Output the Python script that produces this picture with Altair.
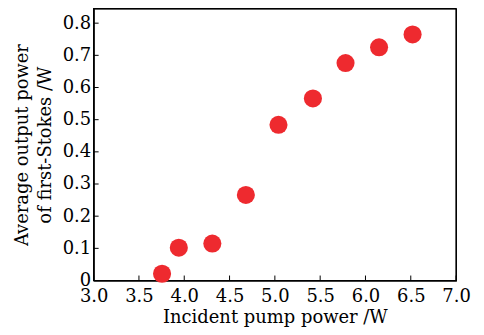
import altair as alt
import pandas as pd

pump = [3.755, 3.94, 4.31, 4.68, 5.04, 5.42, 5.78, 6.15, 6.52]
power = [0.021, 0.102, 0.115, 0.266, 0.484, 0.566, 0.676, 0.725, 0.765]
x_ticks = [3.0, 3.5, 4.0, 4.5, 5.0, 5.5, 6.0, 6.5, 7.0]
y_ticks = [0, 0.1, 0.2, 0.3, 0.4, 0.5, 0.6, 0.7, 0.8]

W, H = 364, 273
FONT = "DejaVu Serif"
FS = 18

df = pd.DataFrame({"pump": pump, "power": power})
xt = pd.DataFrame({"t": x_ticks})
yt = pd.DataFrame({"t": y_ticks})
frame = pd.DataFrame({"a": [0]})

xscale = alt.Scale(domain=[3.0, 7.0], nice=False, zero=False)
yscale = alt.Scale(domain=[0, 0.845], nice=False)

xaxis = alt.Axis(values=x_ticks, format=".1f", tickSize=0, grid=False,
                 labelFont=FONT, labelFontSize=FS, labelColor="black",
                 titleFont=FONT, titleFontSize=FS, titleFontWeight="normal",
                 titleColor="black", domainColor="black", labelPadding=7,
                 titlePadding=3, labelFlush=False, labelOverlap=False)
yaxis = alt.Axis(values=y_ticks, labelExpr="datum.value == 0 ? '0' : format(datum.value, '.1f')",
                 tickSize=0, grid=False,
                 labelFont=FONT, labelFontSize=FS, labelColor="black",
                 titleFont=FONT, titleFontSize=FS, titleFontWeight="normal",
                 titleColor="black", domainColor="black", labelPadding=3,
                 titlePadding=8, titleLineHeight=23, labelFlush=False,
                 labelOverlap=False)
xtitle = "Incident pump power /W"
ytitle = ["Average output power", "of first-Stokes /W"]

pts = alt.Chart(df).mark_circle(size=330, opacity=1, color="#ee2a2f").encode(
    x=alt.X("pump:Q", scale=xscale, axis=xaxis, title=xtitle),
    y=alt.Y("power:Q", scale=yscale, axis=yaxis, title=ytitle),
)

xtk = alt.Chart(xt).mark_rule(color="black", strokeWidth=1).encode(
    x=alt.X("t:Q", scale=xscale, axis=xaxis, title=xtitle),
    y=alt.value(H), y2=alt.value(H - 5))
ytk = alt.Chart(yt).mark_rule(color="black", strokeWidth=1).encode(
    y=alt.Y("t:Q", scale=yscale, axis=yaxis, title=ytitle),
    x=alt.value(0), x2=alt.value(5))
box = alt.Chart(frame).mark_rect(fill=None, stroke="black", strokeWidth=1.2).encode(
    x=alt.value(0), x2=alt.value(W), y=alt.value(0), y2=alt.value(H))

chart = alt.layer(box, xtk, ytk, pts).properties(
    width=W, height=H,
    autosize=alt.AutoSizeParams(type="none"),
    padding={"left": 86, "top": 0, "right": 20, "bottom": 50},
).configure_view(stroke="black", strokeWidth=1.2)

chart.save("out.html", embed_options={"renderer": "svg", "actions": False})
